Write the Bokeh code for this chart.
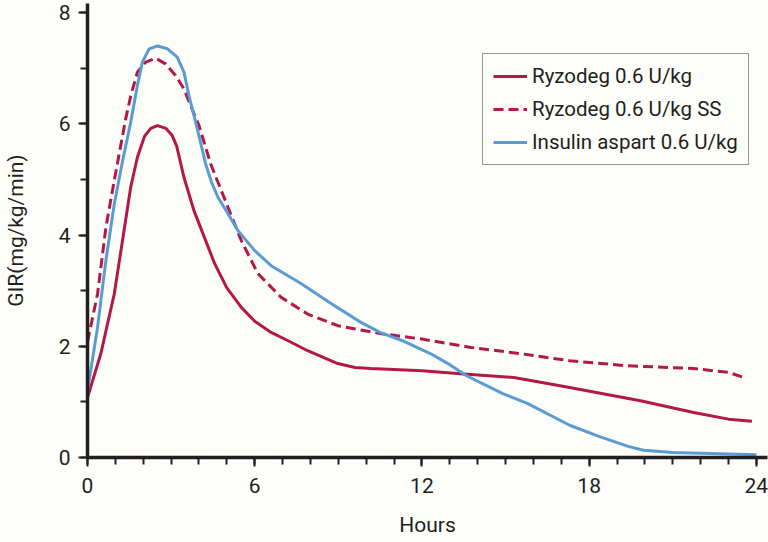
from bokeh.plotting import figure
from bokeh.models import Legend, LegendItem, SingleIntervalTicker, Range1d
from bokeh.embed import file_html
from bokeh.resources import INLINE

# Data
ryz_x = [0, 0.48, 0.96, 1.28, 1.55, 1.79, 2.05, 2.27, 2.51, 2.81, 3.04, 3.2, 3.46, 3.82, 4.24, 4.56,
         5.0, 5.52, 6.0, 6.59, 7.2, 7.9, 8.98, 9.6, 10.17, 12.0, 13.5, 15.3, 17.3, 19.84, 21.75, 23.0, 23.84]
ryz_y = [1.08, 1.87, 2.94, 3.98, 4.86, 5.4, 5.78, 5.92, 5.97, 5.92, 5.79, 5.6, 5.04, 4.44, 3.9, 3.49,
         3.05, 2.7, 2.45, 2.25, 2.1, 1.92, 1.69, 1.62, 1.6, 1.56, 1.5, 1.44, 1.26, 1.02, 0.81, 0.69, 0.65]

ss_x = [0, 0.36, 0.66, 0.96, 1.07, 1.37, 1.55, 1.79, 2.09, 2.45, 2.8, 3.16, 3.46, 3.7, 4.0, 4.42,
        5.04, 5.52, 6.11, 6.95, 7.9, 8.98, 10.5, 12.0, 13.75, 15.5, 17.3, 19.36, 21.75, 23.0, 23.55]
ss_y = [2.08, 2.94, 4.14, 4.98, 5.28, 6.09, 6.5, 6.93, 7.11, 7.18, 7.08, 6.87, 6.63, 6.33, 5.97, 5.28,
        4.5, 3.9, 3.31, 2.88, 2.58, 2.37, 2.23, 2.13, 1.98, 1.87, 1.74, 1.65, 1.6, 1.53, 1.44]

asp_x = [0, 0.36, 0.66, 0.96, 1.25, 1.55, 1.79, 1.97, 2.21, 2.51, 2.87, 3.22, 3.46, 3.64, 3.94, 4.24,
         4.45, 4.68, 5.0, 5.4, 6.0, 6.59, 7.66, 8.74, 9.81, 10.5, 11.3, 12.3, 13.0, 13.6, 14.9, 15.8,
         17.3, 18.4, 19.4, 19.95, 21.0, 24.0]
asp_y = [1.2, 2.34, 3.54, 4.56, 5.31, 6.03, 6.69, 7.11, 7.35, 7.4, 7.35, 7.2, 6.93, 6.51, 5.91, 5.28,
         4.95, 4.68, 4.42, 4.08, 3.72, 3.45, 3.13, 2.77, 2.43, 2.25, 2.1, 1.87, 1.67, 1.47, 1.15, 0.97,
         0.58, 0.37, 0.2, 0.13, 0.09, 0.05]

labels = ["Ryzodeg 0.6 U/kg", "Ryzodeg 0.6 U/kg SS", "Insulin aspart 0.6 U/kg"]
x_label = "Hours"
y_label = "GIR(mg/kg/min)"

RED = "#b3184a"
BLUE = "#5a9bd3"
INK = "#231f20"
BG = "#fdfdfa"
FONT = "'Liberation Sans Narrow', 'Roboto', sans-serif"

p = figure(width=768, height=542, output_backend="svg", toolbar_location=None,
           x_range=Range1d(0, 24.4), y_range=Range1d(0, 8.165),
           min_border_left=86, min_border_right=1, min_border_top=3, min_border_bottom=85)
p.background_fill_color = BG
p.border_fill_color = BG
p.outline_line_color = None
p.grid.visible = False

r1 = p.line(ryz_x, ryz_y, line_color=RED, line_width=3, line_join="round")
r2 = p.line(ss_x, ss_y, line_color=RED, line_width=3, line_dash="10 5")
r3 = p.line(asp_x, asp_y, line_color=BLUE, line_width=3, line_join="round")

p.xaxis.ticker = SingleIntervalTicker(interval=6, num_minor_ticks=6)
p.yaxis.ticker = SingleIntervalTicker(interval=2, num_minor_ticks=2)

for ax in (p.xaxis, p.yaxis):
    ax.axis_line_color = INK
    ax.axis_line_width = 3.5
    ax.major_tick_line_color = INK
    ax.major_tick_line_width = 2
    ax.minor_tick_line_color = INK
    ax.minor_tick_line_width = 2
    ax.major_tick_out = 9
    ax.major_tick_in = 0
    ax.minor_tick_out = 7
    ax.minor_tick_in = 0
    ax.major_label_text_font = FONT
    ax.major_label_text_font_size = "21px"
    ax.major_label_text_color = INK
    ax.axis_label_text_font = FONT
    ax.axis_label_text_font_size = "21px"
    ax.axis_label_text_font_style = "normal"
    ax.axis_label_text_color = INK

p.xaxis.axis_label = x_label
p.yaxis.axis_label = y_label
p.xaxis.major_label_standoff = 11
p.yaxis.major_label_standoff = 8
p.xaxis.axis_label_standoff = 17
p.yaxis.axis_label_standoff = 28

legend = Legend(items=[LegendItem(label=labels[0], renderers=[r1]),
                       LegendItem(label=labels[1], renderers=[r2]),
                       LegendItem(label=labels[2], renderers=[r3])],
                location=(395, 292))
legend.label_text_font = FONT
legend.label_text_font_size = "20.5px"
legend.label_text_color = INK
legend.glyph_width = 34
legend.glyph_height = 24
legend.label_height = 24
legend.spacing = 9
legend.padding = 10
legend.margin = 0
legend.label_standoff = 5
legend.border_line_color = "#333333"
legend.border_line_width = 1.2
legend.background_fill_color = BG
legend.background_fill_alpha = 1
p.add_layout(legend)

open("out.html", "w").write(file_html(p, INLINE))
